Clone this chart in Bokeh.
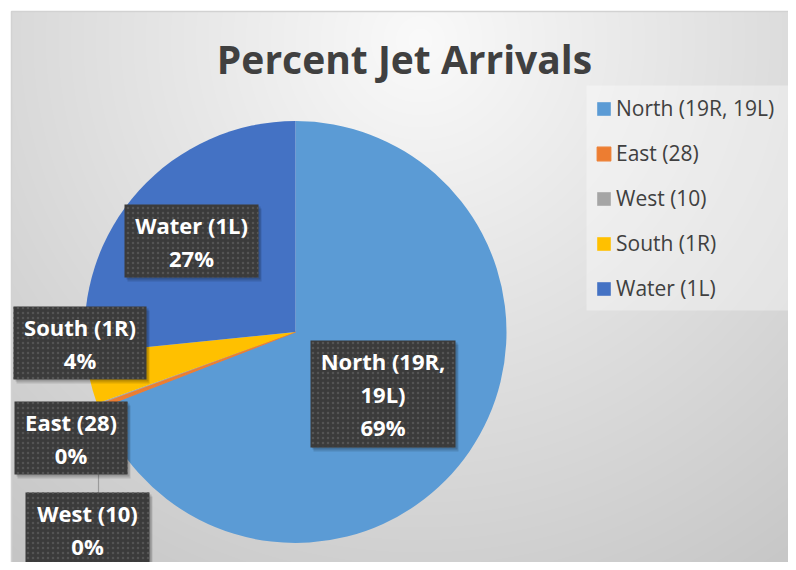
import numpy as np
from bokeh.plotting import figure
from bokeh.models import Range1d, ColumnDataSource, Legend, LegendItem
from bokeh.core.properties import value
from bokeh.embed import file_html
from bokeh.resources import INLINE

# ---- data ----
categories = ["North (19R, 19L)", "East (28)", "West (10)", "South (1R)", "Water (1L)"]
percents = [69.1, 0.3, 0.1, 3.9, 26.6]
colors = ["#5B9BD5", "#ED7D31", "#A5A5A5", "#FFC000", "#4472C4"]
label_names = [["North (19R,", "19L)"], ["East (28)"], ["West (10)"], ["South (1R)"], ["Water (1L)"]]
title_text = "Percent Jet Arrivals"

# ---- layout (screen px) ----
W, H = 788, 562
def sx(x): return x
def sy(y): return H - y

cx, cy, R = sx(295), sy(331.5), 211
box_cx = [382.5, 70.5, 87, 79.5, 191]
box_cy = [393.5, 437.5, 528.5, 342.5, 240.5]
box_w = [145, 113, 124, 133, 134]
box_h = [107, 73, 73, 73, 73]
LINE = 33

p = figure(width=W, height=H, x_range=Range1d(0, W), y_range=Range1d(0, H),
           output_backend="svg", toolbar_location=None, min_border=0,
           x_axis_type=None, y_axis_type=None)
p.grid.visible = False
p.outline_line_color = None
p.background_fill_color = "white"
p.border_fill_color = "white"

# background gradient
gx0, gy0 = 11, 0
gw, gh = W - gx0, sy(11) - gy0
xs = np.arange(gw) + gx0 + 0.5
ys = H - (np.arange(gh) + gy0 + 0.5)
X, Y = np.meshgrid(xs, ys)
d = np.hypot(X - 420, (Y - 40) * 1.0)
g = np.clip(250 - 0.08 * d, 0, 255).astype(np.uint32)
img = (np.uint32(255) << 24) | (g << 16) | (g << 8) | g
p.image_rgba(image=[img], x=gx0, y=gy0, dw=gw, dh=gh)
p.line(x=[sx(11), sx(11), sx(796)], y=[sy(572), sy(11), sy(11)], line_color="#d2d2d2", line_width=1.5)

# legend background panel
p.quad(left=[sx(586)], right=[sx(790)], top=[sy(85)], bottom=[sy(310)],
       fill_color="white", fill_alpha=0.35, line_color=None)

# pie
frac = np.array(percents) / sum(percents)
ends = np.cumsum(frac) * 2 * np.pi
starts = ends - frac * 2 * np.pi
src = ColumnDataSource(dict(start=np.pi / 2 - starts, end=np.pi / 2 - ends,
                            color=colors, cat=categories,
                            lalpha=[0, 1, 0, 0, 0]))
wr = p.wedge(x=cx, y=cy, radius=R, start_angle='start', end_angle='end', direction='clock',
             fill_color='color', line_color='color', line_alpha='lalpha', line_width=1.2, source=src)

# leader line East -> West
p.segment(x0=[sx(98)], y0=[sy(474)], x1=[sx(98)], y1=[sy(492)], line_color="#9a9a9a", line_width=1.2)

# label boxes
bx = [sx(v) for v in box_cx]
by = [sy(v) for v in box_cy]
p.rect(x=[v + 3 for v in bx], y=[v - 4 for v in by], width=box_w, height=box_h,
       fill_color="black", fill_alpha=0.13, line_color=None)
p.rect(x=[v + 2 for v in bx], y=[v - 2 for v in by], width=box_w, height=box_h,
       fill_color="black", fill_alpha=0.15, line_color=None)
p.rect(x=bx, y=by, width=box_w, height=box_h, fill_color="#3b3b3b", line_color=None,
       hatch_pattern="dot", hatch_color="#545454", hatch_scale=5, hatch_weight=1)

tx, ty, tt = [], [], []
for i in range(len(categories)):
    lines = label_names[i] + [f"{round(percents[i])}%"]
    n = len(lines)
    for k, s in enumerate(lines):
        tx.append(bx[i])
        ty.append(by[i] + (n - 1) / 2 * LINE - k * LINE)
        tt.append(s)
p.text(x=tx, y=ty, text=tt, text_font=value("Open Sans"), text_font_style="bold",
       text_font_size="22px", text_color="white", text_align="center", text_baseline="middle")

# title
p.text(x=[sx(404)], y=[sy(58)], text=[title_text], text_font=value("Open Sans"), text_font_style="bold",
       text_font_size="39px", text_color="#404040", text_align="center", text_baseline="middle")

legend = Legend(items=[LegendItem(label=c, renderers=[wr], index=i) for i, c in enumerate(categories)],
                location=(595, 260), label_text_font="Open Sans", label_text_font_size="21px",
                label_text_color="#404040", glyph_width=17, glyph_height=17, label_height=24,
                spacing=17, padding=12, margin=0, label_standoff=4,
                background_fill_alpha=0, border_line_color=None)
p.add_layout(legend)

open("out.html", "w").write(file_html(p, INLINE))
